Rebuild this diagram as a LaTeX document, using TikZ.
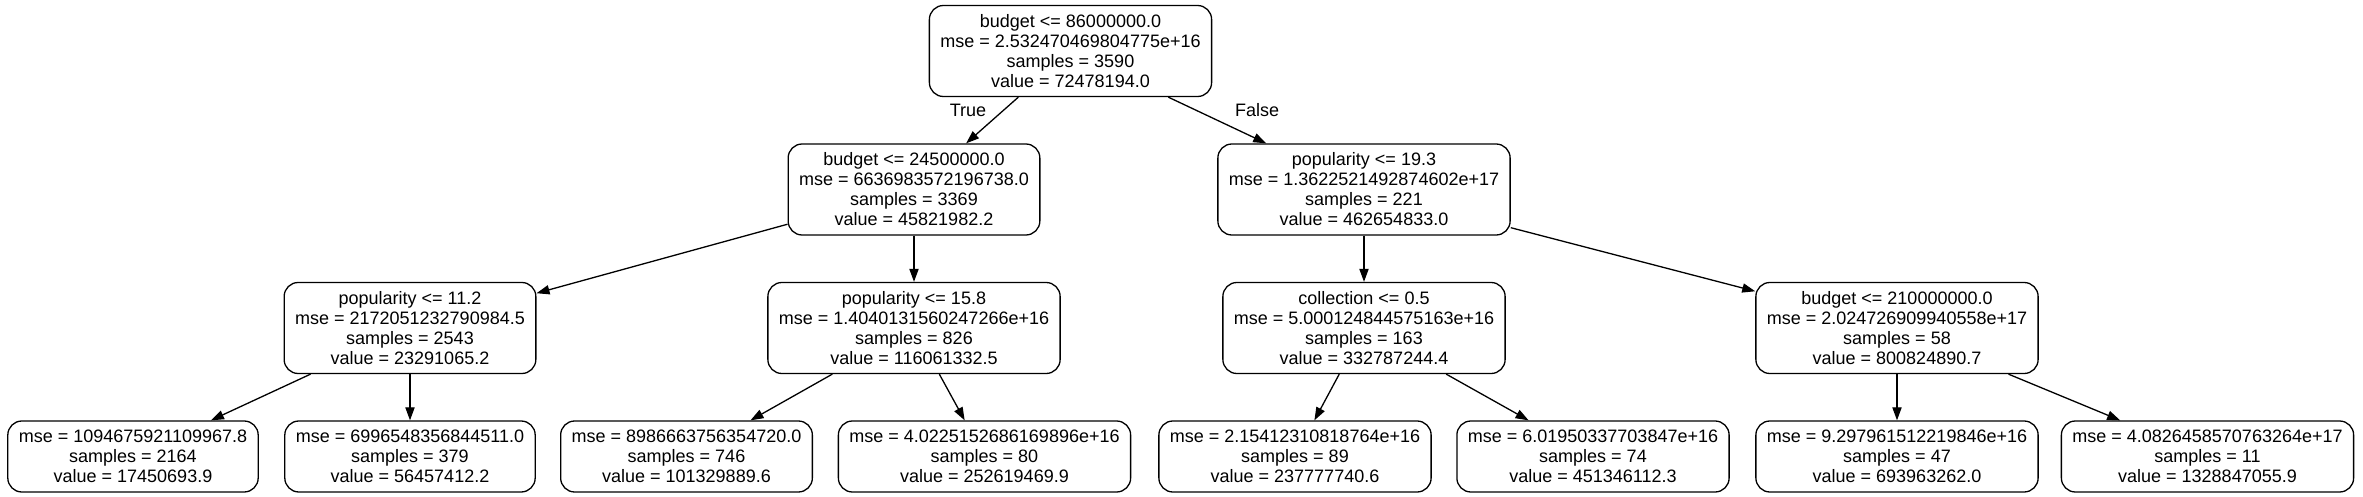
\documentclass[tikz,border=0pt]{standalone}
\usepackage{fontspec}
\setmainfont{Liberation Sans}
\usetikzlibrary{arrows.meta}
\begin{document}
\begin{tikzpicture}[x=0.5pt,y=-0.5pt,
  box/.style={draw, rounded corners=7pt, line width=0.65pt, align=center,
    inner xsep=5.5pt, inner ysep=0pt, font=\fontsize{9}{10}\selectfont},
  split/.style={box, minimum height=45.5pt},
  leaf/.style={box, minimum height=35.5pt},
  edge/.style={line width=0.65pt, -{Triangle[length=6.5pt,width=4.6pt]}},
  lbl/.style={font=\fontsize{9}{10}\selectfont, inner sep=0pt}]
\useasboundingbox[fill=white] (0,0) rectangle (2363,497);

\node[split] (root) at (1070.5,51) {budget <= 86000000.0\\mse = 2.532470469804775e+16\\samples = 3590\\value = 72478194.0};

\node[split] (n1) at (914,189.5) {budget <= 24500000.0\\mse = 6636983572196738.0\\samples = 3369\\value = 45821982.2};
\node[split] (n2) at (1364,189.5) {popularity <= 19.3\\mse = 1.3622521492874602e+17\\samples = 221\\value = 462654833.0};

\node[split] (n3) at (410,328) {popularity <= 11.2\\mse = 2172051232790984.5\\samples = 2543\\value = 23291065.2};
\node[split] (n4) at (914,328) {popularity <= 15.8\\mse = 1.4040131560247266e+16\\samples = 826\\value = 116061332.5};
\node[split] (n5) at (1364,328) {collection <= 0.5\\mse = 5.000124844575163e+16\\samples = 163\\value = 332787244.4};
\node[split] (n6) at (1897,328) {budget <= 210000000.0\\mse = 2.024726909940558e+17\\samples = 58\\value = 800824890.7};

\node[leaf] (l1) at (133,456.5) {mse = 1094675921109967.8\\samples = 2164\\value = 17450693.9};
\node[leaf] (l2) at (410,456.5) {mse = 6996548356844511.0\\samples = 379\\value = 56457412.2};
\node[leaf] (l3) at (686.5,456.5) {mse = 8986663756354720.0\\samples = 746\\value = 101329889.6};
\node[leaf] (l4) at (984.5,456.5) {mse = 4.0225152686169896e+16\\samples = 80\\value = 252619469.9};
\node[leaf] (l5) at (1295,456.5) {mse = 2.15412310818764e+16\\samples = 89\\value = 237777740.6};
\node[leaf] (l6) at (1593,456.5) {mse = 6.01950337703847e+16\\samples = 74\\value = 451346112.3};
\node[leaf] (l7) at (1897,456.5) {mse = 9.297961512219846e+16\\samples = 47\\value = 693963262.0};
\node[leaf] (l8) at (2207.5,456.5) {mse = 4.0826458570763264e+17\\samples = 11\\value = 1328847055.9};

\node[lbl] (tlbl) at (968,110) {True};
\node[lbl] (flbl) at (1257,110) {False};

\draw[edge] (root) -- (n1);
\draw[edge] (root) -- (n2);
\draw[edge] (n1) -- (n3);
\draw[edge] (n1) -- (n4);
\draw[edge] (n2) -- (n5);
\draw[edge] (n2) -- (n6);
\draw[edge] (n3) -- (l1);
\draw[edge] (n3) -- (l2);
\draw[edge] (n4) -- (l3);
\draw[edge] (n4) -- (l4);
\draw[edge] (n5) -- (l5);
\draw[edge] (n5) -- (l6);
\draw[edge] (n6) -- (l7);
\draw[edge] (n6) -- (l8);
\end{tikzpicture}
\end{document}
